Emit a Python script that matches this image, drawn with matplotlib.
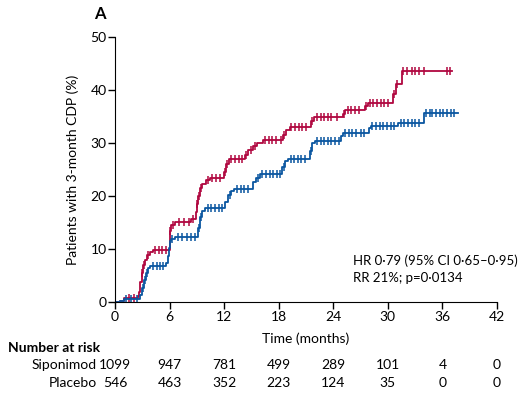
import numpy as np
import matplotlib
matplotlib.use("Agg")
import matplotlib.pyplot as plt

plt.rcParams['font.family'] = ['Lato', 'DejaVu Sans']

# Kaplan-Meier step data (months, cumulative % with 3-month CDP)
sipo_t = [0, 0.5, 1.0, 2.8, 3.0, 3.2, 3.4, 3.6, 3.8, 5.6, 5.8, 5.9, 6.0, 6.2, 6.6,
          9.1, 9.3, 9.6, 9.9, 12.1, 12.4, 12.8, 13.1, 15.2, 15.5, 15.9,
          18.4, 18.7, 19.0, 21.4, 21.7, 22.0, 24.9, 25.1, 27.9, 28.1, 31.1, 34.0, 37.7]
sipo_y = [0, 0.3, 0.7, 1.3, 2.7, 4.3, 5.5, 6.4, 6.8, 7.5, 8.8, 10.2, 11.5, 12.0, 12.4,
          14.0, 16.0, 17.2, 17.7, 19.0, 20.3, 20.9, 21.3, 22.6, 23.5, 24.2,
          25.6, 26.6, 27.0, 28.6, 30.0, 30.4, 31.3, 31.9, 32.8, 33.2, 33.8, 35.7, 35.7]

plac_t = [0, 0.6, 1.0, 2.5, 2.6, 2.8, 3.0, 3.1, 3.3, 3.5, 3.9, 4.2, 6.0, 6.1, 6.2, 6.6, 8.3,
          8.9, 9.0, 9.1, 9.3, 9.6, 10.0, 10.4, 12.0, 12.2, 12.5, 14.3, 14.6, 15.2, 15.6, 16.3,
          18.5, 18.8, 19.2, 21.6, 21.9, 25.1, 25.3, 27.5, 27.8, 30.6, 30.9, 31.5, 37.0]
plac_y = [0, 0.3, 0.75, 1.2, 2.0, 3.9, 5.5, 7.0, 8.0, 8.9, 9.5, 9.9, 12.0, 13.5, 14.6, 15.2, 15.8,
          17.0, 18.5, 20.0, 21.5, 22.4, 23.0, 23.4, 24.5, 26.0, 27.1, 27.8, 28.7, 29.5, 30.0, 30.6,
          31.5, 32.5, 33.1, 34.1, 34.9, 35.5, 36.2, 37.0, 37.6, 39.2, 41.1, 43.6, 43.6]

# censoring times (months)
sipo_cens = [1.2, 1.8, 2.4, 3.1, 3.3, 3.5, 4.2, 4.6, 5.0, 5.3, 6.3, 6.9, 7.4, 7.9, 8.4, 8.8,
             9.2, 9.4, 10.2, 10.6, 11.0, 11.4, 11.8, 12.6, 13.4, 13.8, 14.2, 14.6,
             15.7, 16.2, 16.6, 17.0, 17.4, 17.8, 18.1, 18.6, 19.3, 19.7, 20.1, 20.5, 20.9,
             21.5, 22.2, 22.6, 23.0, 23.4, 23.8, 24.2, 24.6, 25.3, 25.7, 26.1, 26.5, 27.0, 27.4,
             28.3, 28.7, 29.1, 29.5, 29.9, 30.3, 30.7, 31.4, 31.8, 32.2, 32.6, 33.0, 33.4,
             34.2, 34.6, 34.9, 35.3, 35.7, 36.1, 36.5, 36.9, 37.3]
plac_cens = [1.5, 2.1, 3.0, 3.2, 3.6, 4.4, 4.8, 5.2, 5.6, 6.1, 6.4, 7.0, 7.6, 8.1, 8.6,
             9.0, 9.2, 9.5, 10.2, 10.7, 11.1, 11.5, 12.1, 12.3, 12.8, 13.2, 13.6, 14.0,
             14.4, 15.0, 15.4, 16.5, 16.9, 17.3, 17.7, 18.2, 18.6, 19.4, 19.8, 20.2, 20.6, 21.0,
             21.7, 22.2, 22.6, 23.0, 23.4, 23.8, 24.4, 25.2, 25.6, 26.0, 26.4, 26.8,
             27.6, 28.0, 28.4, 28.8, 29.2, 29.6, 30.0, 30.7, 31.0, 31.7, 32.1, 32.6, 33.0,
             33.4, 34.0, 36.5, 36.8]

ticks_x = [0, 6, 12, 18, 24, 30, 36, 42]
risk_sipo = [1099, 947, 781, 499, 289, 101, 4, 0]
risk_plac = [546, 463, 352, 223, 124, 35, 0, 0]

red = '#b0063f'
blue = '#0a56a0'


def km_at(ts, ys, t):
    i = np.searchsorted(ts, t, side='right') - 1
    return np.asarray(ys)[i]


fig = plt.figure(figsize=(5.31, 4.0), dpi=100)
ax = fig.add_axes([0.2166, 0.244, 0.7194, 0.6635])

for ts, ys, cens, col in [(plac_t, plac_y, plac_cens, red), (sipo_t, sipo_y, sipo_cens, blue)]:
    ax.step(ts, ys, where='post', color=col, lw=1.3)
    ax.plot(cens, km_at(ts, ys, np.array(cens)), ls='none', marker='|',
            ms=6, mew=1.1, color=col)

ax.set_xlim(0, 42)
ax.set_ylim(0, 50)
ax.set_xticks(ticks_x)
ax.set_yticks([0, 10, 20, 30, 40, 50])
ax.spines['top'].set_visible(False)
ax.spines['right'].set_visible(False)
ax.spines['left'].set_bounds(0, 50)
ax.tick_params(direction='out', length=5, width=1, labelsize=10, pad=1)
ax.set_xlabel('Time (months)', fontsize=10, labelpad=7)
ax.set_ylabel('Patients with 3-month CDP (%)', fontsize=10, labelpad=8)

ax.text(0.622, 0.125, 'HR 0·79 (95% CI 0·65–0·95)\nRR 21%; p=0·0134',
        transform=ax.transAxes, fontsize=9.5, va='center', ha='left', linespacing=1.45)

fig.text(100 / 531, 1 - 14 / 400, 'A', fontsize=12, fontweight='bold', ha='center', va='center')
fig.text(8 / 531, 1 - 348 / 400, 'Number at risk', fontsize=10, fontweight='bold',
         ha='left', va='center')

trans = matplotlib.transforms.blended_transform_factory(ax.transData, fig.transFigure)
for label, risk, ypx in [('Siponimod', risk_sipo, 365), ('Placebo', risk_plac, 383)]:
    fig.text(97 / 531, 1 - ypx / 400, label, fontsize=10, ha='right', va='center')
    for x, n in zip(ticks_x, risk):
        ax.text(x, 1 - ypx / 400, str(n), transform=trans, fontsize=10,
                ha='center', va='center', clip_on=False)

fig.savefig('out.png', dpi=100)
